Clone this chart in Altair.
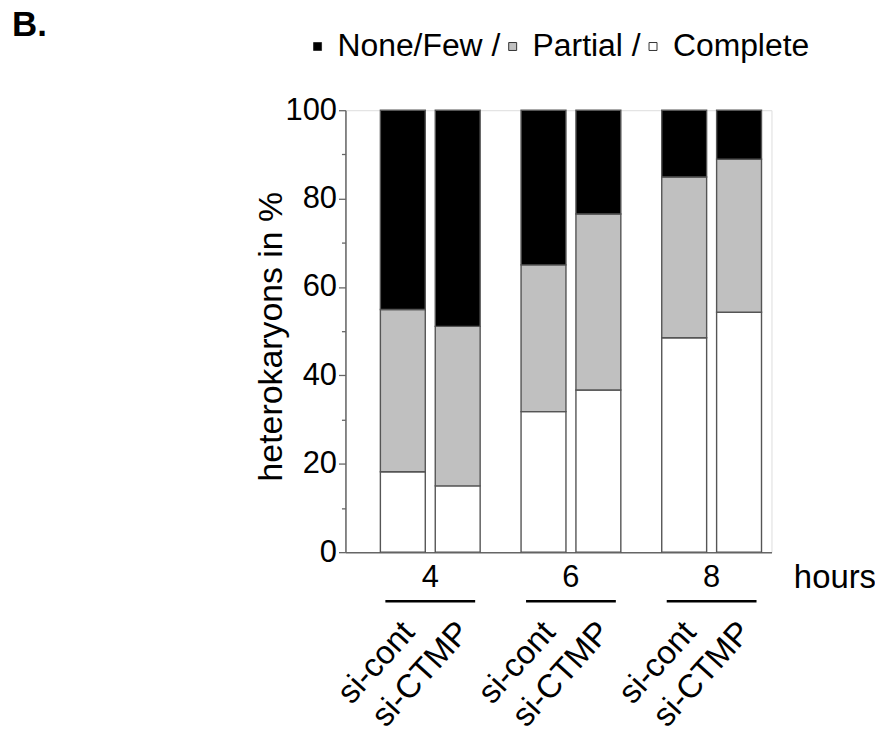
import altair as alt
import pandas as pd

# ---- data ----
hours = ["4", "4", "6", "6", "8", "8"]
conditions = ["si-cont", "si-CTMP", "si-cont", "si-CTMP", "si-cont", "si-CTMP"]
complete = [18.2, 15.0, 31.8, 36.7, 48.5, 54.3]
partial = [36.7, 36.1, 33.2, 39.8, 36.4, 34.6]
none_few = [45.1, 48.9, 35.0, 23.5, 15.1, 11.1]

categories = ["None/Few", "Partial", "Complete"]
cat_colors = ["#000000", "#c0c0c0", "#ffffff"]
stack_rank = {"Complete": 0, "Partial": 1, "None/Few": 2}
hour_groups = ["4", "6", "8"]
y_ticks = [0, 10, 20, 30, 40, 50, 60, 70, 80, 90, 100]

FONT = "Liberation Sans"

rows = []
for h, c, a, b, n in zip(hours, conditions, complete, partial, none_few):
    for cat, v in (("Complete", a), ("Partial", b), ("None/Few", n)):
        rows.append({"hour": h, "cond": c, "cat": cat, "value": v, "rank": stack_rank[cat]})
df = pd.DataFrame(rows)
df_bars = pd.DataFrame({"hour": hours, "cond": conditions})
df_groups = pd.DataFrame({"hour": hour_groups})

W, H = 428, 444

x_scale = alt.Scale(domain=hour_groups, paddingInner=0.2908, paddingOuter=0.1596, align=0.778)
xo_scale = alt.Scale(domain=["si-cont", "si-CTMP"], paddingInner=0.1818, paddingOuter=0)

x_enc = alt.X(
    "hour:N",
    scale=x_scale,
    sort=hour_groups,
    axis=alt.Axis(
        title="hours",
        titleX=450,
        titleY=10,
        titleAlign="left",
        titleBaseline="top",
        titleFontSize=33,
        titleFontWeight="normal",
        titleFont=FONT,
        titleColor="#000",
        labelAngle=0,
        labelFontSize=31,
        labelFont=FONT,
        labelColor="#000",
        labelPadding=10,
        ticks=False,
        domainColor="#666",
        domainWidth=1.5,
    ),
)

bars = alt.Chart(df).mark_bar(stroke="#555555", strokeWidth=1.4).encode(
    x=x_enc,
    xOffset=alt.XOffset("cond:N", scale=xo_scale, sort=["si-cont", "si-CTMP"]),
    y=alt.Y(
        "value:Q",
        stack="zero",
        scale=alt.Scale(domain=[0, 100], nice=False),
        axis=alt.Axis(
            title="heterokaryons in %",
            titleFontSize=34,
            titleFont=FONT,
            titleFontWeight="normal",
            titleColor="#000",
            titleAngle=270,
            titleX=-74,
            titleY=227,
            titleAlign="center",
            titleBaseline="middle",
            values=y_ticks,
            labelExpr="datum.value % 20 == 0 ? datum.label : ''",
            labelFontSize=31,
            labelFont=FONT,
            labelColor="#000",
            labelPadding=2,
            tickSize={"condition": {"test": "datum.value % 20 == 0", "value": 7}, "value": 4},
            tickColor="#666",
            tickWidth=1.3,
            domainColor="#666",
            domainWidth=1.5,
            grid=False,
        ),
    ),
    color=alt.Color(
        "cat:N",
        scale=alt.Scale(domain=categories, range=cat_colors),
        legend=alt.Legend(
            title=None,
            orient="none",
            legendX=-44,
            legendY=-80,
            direction="horizontal",
            symbolType="square",
            symbolSize=64,
            symbolStrokeColor="#333",
            symbolStrokeWidth=1,
            labelFontSize=32,
            labelFont=FONT,
            labelColor="#000",
            labelOffset=4,
            labelLimit=400,
            gridAlign="none",
            columnPadding=-4,
            padding=0,
            labelExpr="datum.label == 'Complete' ? datum.label : datum.label + ' /'",
        ),
    ),
    order=alt.Order("rank:Q"),
)

labels = alt.Chart(df_bars).mark_text(
    angle=312, align="right", baseline="middle", fontSize=33, font=FONT, color="#000", dx=4, dy=4.5
).encode(
    x=alt.X("hour:N", scale=x_scale, sort=hour_groups),
    xOffset=alt.XOffset("cond:N", scale=xo_scale, sort=["si-cont", "si-CTMP"]),
    y=alt.value(519),
    text="cond:N",
)

underline = alt.Chart(df_groups).mark_bar(color="#000", width={"band": 0.9}).encode(
    x=alt.X("hour:N", scale=x_scale, sort=hour_groups),
    y=alt.value(492),
    y2=alt.value(494.5),
)

chart = alt.layer(bars, labels, underline).properties(
    width=W,
    height=H,
    autosize=alt.AutoSizeParams(type="none"),
    padding={"left": 339, "top": 101, "right": 104, "bottom": 182},
    title=alt.TitleParams(
        "B.",
        anchor="start",
        frame="group",
        fontSize=35,
        fontWeight="bold",
        font=FONT,
        color="#000",
        dx=-335,
        dy=16,
    ),
).configure_view(stroke=None).configure(background="white")

chart.save("out.html", embed_options={"renderer": "svg", "actions": False})
